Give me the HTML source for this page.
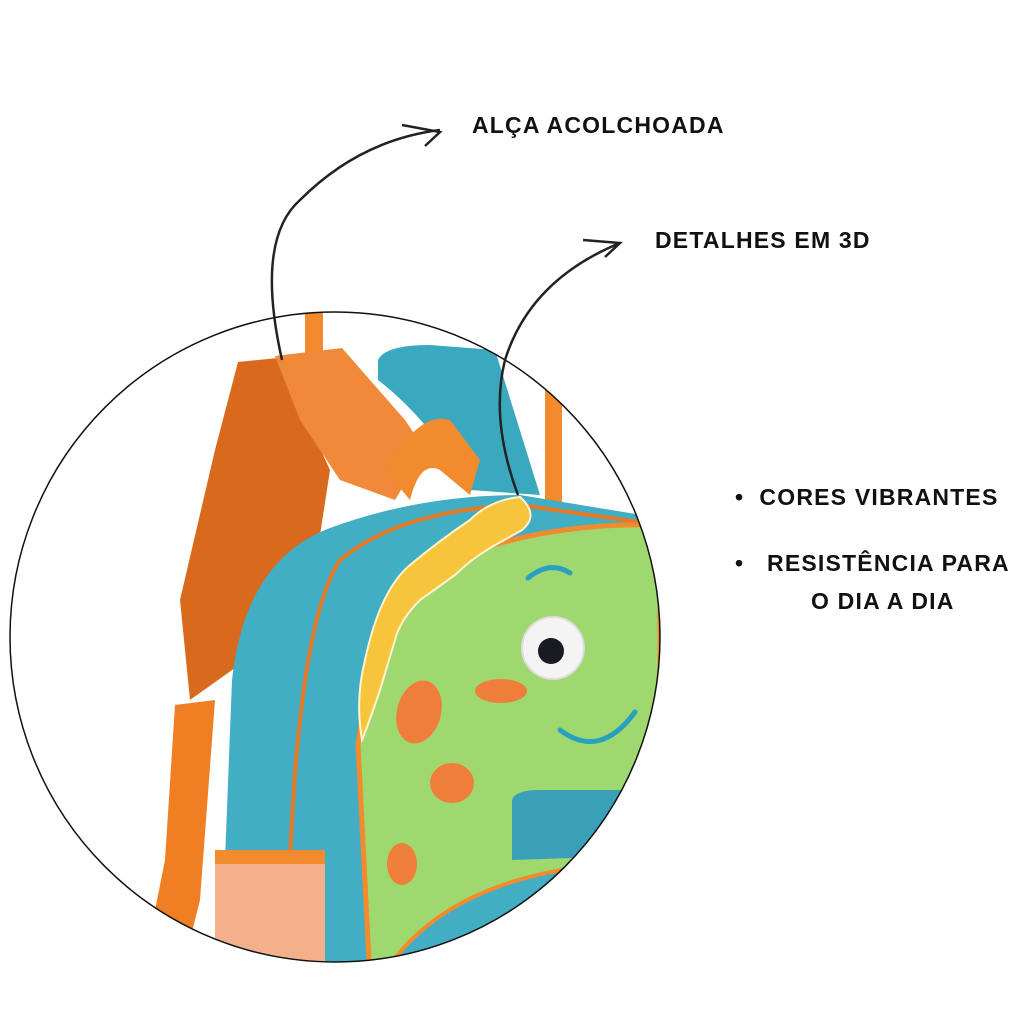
<!DOCTYPE html>
<html><head><meta charset="utf-8"><style>
body{margin:0;background:#fff;}
.t{position:absolute;font-family:"Liberation Sans",sans-serif;font-weight:bold;font-size:23px;color:#111;letter-spacing:1.2px;white-space:nowrap}
</style></head><body>
<div style="position:relative;width:1024px;height:1024px;overflow:hidden;background:#fff">
<svg width="1024" height="1024" style="position:absolute;left:0;top:0">
<defs><clipPath id="c"><circle cx="335" cy="637" r="325"/></clipPath></defs>
<g clip-path="url(#c)">
<rect x="0" y="0" width="1024" height="1024" fill="#fff"/>
<rect x="305" y="300" width="18" height="200" fill="#f28a2e"/>
<rect x="545" y="370" width="17" height="140" fill="#f28a2e"/>
<path d="M378,360 Q385,345 430,345 L495,350 L540,495 L470,490 Q430,420 378,380Z" fill="#3aa9c0"/>
<path d="M238,362 L278,358 L330,470 L310,600 L260,650 L190,700 L180,600 L215,450Z" fill="#d9691c"/>
<path d="M275,356 L342,348 L405,420 L425,450 L395,500 L340,480 L300,420Z" fill="#f0893a"/>
<path d="M385,470 Q420,410 450,420 L480,460 L470,495 L440,470 Q420,460 410,500Z" fill="#f28a2e"/>
<path d="M175,705 L215,700 L200,900 L185,960 L145,960 L165,860Z" fill="#f07e22"/>
<path d="M225,860 L232,680 Q245,560 330,528 Q420,495 520,495 L660,518 L660,980 L225,980Z" fill="#42aec4"/>
<path d="M290,860 Q300,620 340,560 Q400,510 520,505 L660,525" fill="none" stroke="#e57a26" stroke-width="4"/>
<rect x="215" y="850" width="110" height="130" fill="#f3b08a"/>
<rect x="215" y="850" width="110" height="14" fill="#f28a2e"/>
<path d="M358,745 Q375,610 470,552 Q560,522 660,525 L660,980 L370,980Z" fill="#9fd86f" stroke="#f28a2e" stroke-width="5"/>
<path d="M520,497 Q540,515 522,530 L490,548 Q470,560 455,575 L420,600 Q400,620 395,640 L380,690 Q370,720 362,740 Q355,700 365,660 Q380,590 410,565 Q440,540 470,520 Q490,500 520,497Z" fill="#f7c53c" stroke="#fff4d0" stroke-width="2"/>
<path d="M512,800 Q515,790 540,790 L660,790 L660,855 L512,860Z" fill="#3aa0b8"/>
<path d="M380,980 Q440,880 600,865 L660,862 L660,980Z" fill="#42aec4" stroke="#f28a2e" stroke-width="4"/>
<circle cx="553" cy="648" r="31" fill="#f4f4f4" stroke="#ddd" stroke-width="2"/>
<circle cx="551" cy="651" r="13" fill="#1a1a22"/>
<ellipse cx="419" cy="712" rx="22" ry="32" transform="rotate(15 419 712)" fill="#ef7e3a"/>
<ellipse cx="501" cy="691" rx="26" ry="12" fill="#ef7e3a"/>
<ellipse cx="452" cy="783" rx="22" ry="20" fill="#ef7e3a"/>
<ellipse cx="402" cy="864" rx="15" ry="21" fill="#ef7e3a"/>
<path d="M560,730 Q600,760 635,712" fill="none" stroke="#2aa0c0" stroke-width="5" stroke-linecap="round"/>
<path d="M528,578 Q550,560 570,573" fill="none" stroke="#2aa0c0" stroke-width="5" stroke-linecap="round"/>
</g>
<circle cx="335" cy="637" r="325" fill="none" stroke="#111" stroke-width="1.5"/>
<path d="M282,360 Q255,240 300,200 Q360,140 440,130" fill="none" stroke="#222" stroke-width="2.5"/>
<path d="M402,125 L440,132 L425,146" fill="none" stroke="#222" stroke-width="2.5"/>
<path d="M518,495 Q490,420 505,360 Q530,280 620,243" fill="none" stroke="#222" stroke-width="2.5"/>
<path d="M583,240 L620,243 L605,257" fill="none" stroke="#222" stroke-width="2.5"/>
</svg>
<div class="t" style="left:472px;top:112px">ALÇA ACOLCHOADA</div>
<div class="t" style="left:655px;top:227px">DETALHES EM 3D</div>
<div class="t" style="left:735px;top:484px">•&nbsp; CORES VIBRANTES</div>
<div class="t" style="left:735px;top:550px">•&nbsp;&nbsp; RESISTÊNCIA PARA</div>
<div class="t" style="left:811px;top:588px">O DIA A DIA</div>
</div>
</body></html>
